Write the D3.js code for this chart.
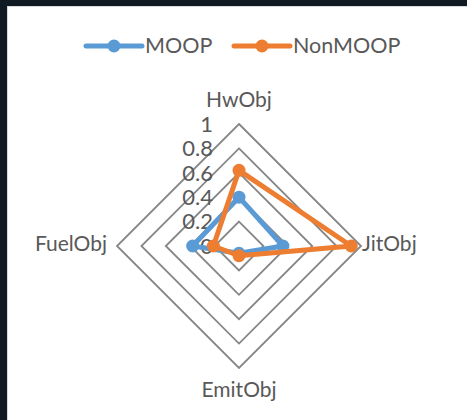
<!DOCTYPE html>
<html>
<head>
<meta charset="utf-8">
<script src="https://cdn.jsdelivr.net/npm/d3@7"></script>
<style>
  html, body { margin: 0; padding: 0; background: #0f1a22; }
  svg { display: block; }
</style>
</head>
<body>
<svg id="chart" width="467" height="420"></svg>
<script>
const categories = ["HwObj", "JitObj", "EmitObj", "FuelObj"];
const seriesNames = ["MOOP", "NonMOOP"];
const moopValues = [0.40, 0.36, 0.06, 0.38];
const nonMoopValues = [0.62, 0.92, 0.08, 0.21];
const tickValues = [0, 0.2, 0.4, 0.6, 0.8, 1];
const tickLabels = ["0", "0.2", "0.4", "0.6", "0.8", "1"];
const colors = ["#5B9BD5", "#ED7D31"];

const svg = d3.select("#chart");
const font = "Lato, 'Open Sans', sans-serif";
const textColor = "#595959";

// frame
svg.append("rect").attr("x", 7).attr("y", 6).attr("width", 460).attr("height", 414).attr("fill", "#d9d9d9");
svg.append("rect").attr("x", 8).attr("y", 7).attr("width", 459).attr("height", 413).attr("fill", "#ffffff");

const cx = 239, cy = 246, R = 122;
const r = d3.scaleLinear().domain([0, 1]).range([0, R]);
const angle = d3.scalePoint().domain(categories).range([0, 2 * Math.PI * 3 / 4]);
const pt = (cat, v) => {
  const a = angle(cat);
  return [cx + r(v) * Math.sin(a), cy - r(v) * Math.cos(a)];
};

const g = svg.append("g");

// rings
const ringLine = d3.line().curve(d3.curveLinearClosed);
g.selectAll("path.ring").data(tickValues.filter(t => t > 0)).join("path")
  .attr("class", "ring")
  .attr("d", t => ringLine(categories.map(c => pt(c, t))))
  .attr("fill", "none")
  .attr("stroke", "#868686")
  .attr("stroke-width", 1.8);

// tick labels
g.selectAll("text.tick").data(tickValues).join("text")
  .attr("class", "tick")
  .attr("x", cx - 26)
  .attr("y", t => cy - r(t))
  .attr("dy", "0.35em")
  .attr("text-anchor", "end")
  .attr("font-family", font)
  .attr("font-size", 22)
  .attr("fill", textColor)
  .text((t, i) => tickLabels[i]);

// series
const series = [moopValues, nonMoopValues];
series.forEach((vals, si) => {
  const pts = categories.map((c, i) => pt(c, vals[i]));
  g.append("path")
    .attr("d", ringLine(pts))
    .attr("fill", "none")
    .attr("stroke", colors[si])
    .attr("stroke-width", 5)
    .attr("stroke-linejoin", "round");
  g.selectAll(null).data(pts).join("circle")
    .attr("cx", d => d[0]).attr("cy", d => d[1])
    .attr("r", 6.5)
    .attr("fill", colors[si]);
});

// category labels
const labelPos = {
  HwObj: { x: cx, y: 107, anchor: "middle" },
  JitObj: { x: 362, y: 251, anchor: "start" },
  EmitObj: { x: cx, y: 397, anchor: "middle" },
  FuelObj: { x: 107, y: 251, anchor: "end" }
};
g.selectAll("text.cat").data(categories).join("text")
  .attr("class", "cat")
  .attr("x", c => labelPos[c].x)
  .attr("y", c => labelPos[c].y)
  .attr("text-anchor", c => labelPos[c].anchor)
  .attr("font-family", font)
  .attr("font-size", 21)
  .attr("fill", textColor)
  .text(c => c);

// legend
const legend = svg.append("g");
const legendItems = [
  { name: seriesNames[0], color: colors[0], x0: 86 },
  { name: seriesNames[1], color: colors[1], x0: 234 }
];
legendItems.forEach(it => {
  legend.append("line")
    .attr("x1", it.x0).attr("x2", it.x0 + 56)
    .attr("y1", 46).attr("y2", 46)
    .attr("stroke", it.color).attr("stroke-width", 5).attr("stroke-linecap", "round");
  legend.append("circle").attr("cx", it.x0 + 28).attr("cy", 46).attr("r", 6.5).attr("fill", it.color);
  legend.append("text")
    .attr("x", it.x0 + 59).attr("y", 53)
    .attr("font-family", font).attr("font-size", 21.5)
    .attr("fill", textColor)
    .text(it.name);
});
</script>
</body>
</html>
